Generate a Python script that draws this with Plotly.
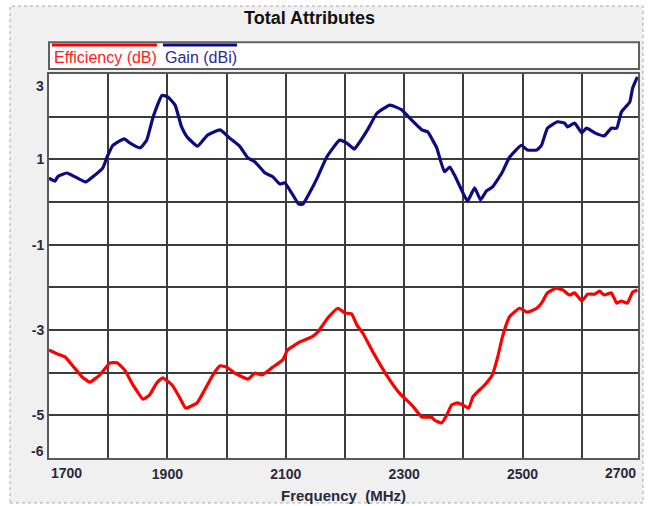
import plotly.graph_objects as go

# ---- data ----
freq_gain = [1700, 1710, 1715, 1730, 1744, 1762, 1774, 1791, 1798, 1808, 1827, 1837, 1854, 1865,
             1876, 1891, 1901, 1913, 1924, 1933, 1951, 1968, 1989, 2005, 2022, 2036, 2048, 2065,
             2078, 2090, 2098, 2110, 2122, 2129, 2140, 2154, 2169, 2191, 2203, 2216, 2225, 2238,
             2254, 2276, 2296, 2309, 2330, 2340, 2348, 2355, 2368, 2377, 2385, 2397, 2407, 2419,
             2429, 2439, 2449, 2465, 2478, 2498, 2508, 2524, 2532, 2542, 2559, 2571, 2576, 2588,
             2600, 2608, 2622, 2638, 2650, 2659, 2667, 2681, 2686, 2694]
gain_dbi = [0.56, 0.49, 0.60, 0.68, 0.59, 0.47, 0.59, 0.80, 1.05, 1.33, 1.48, 1.38, 1.27, 1.45,
            2.00, 2.50, 2.46, 2.27, 1.76, 1.53, 1.31, 1.57, 1.69, 1.50, 1.31, 1.03, 0.94, 0.68,
            0.59, 0.42, 0.45, 0.21, -0.05, -0.05, 0.21, 0.59, 1.05, 1.45, 1.38, 1.24, 1.41, 1.69,
            2.08, 2.27, 2.16, 1.97, 1.69, 1.64, 1.45, 1.27, 0.71, 0.82, 0.63, 0.28, 0.02, 0.33,
            0.05, 0.26, 0.35, 0.68, 1.05, 1.33, 1.22, 1.22, 1.33, 1.73, 1.88, 1.85, 1.76, 1.85,
            1.62, 1.73, 1.62, 1.55, 1.73, 1.73, 2.11, 2.34, 2.67, 2.93]

freq_eff = [1700, 1714, 1727, 1739, 1756, 1769, 1786, 1803, 1815, 1828, 1842, 1859, 1870, 1882,
            1892, 1908, 1921, 1931, 1950, 1960, 1977, 1989, 2000, 2014, 2036, 2048, 2060, 2078,
            2095, 2103, 2124, 2144, 2154, 2171, 2188, 2200, 2211, 2220, 2230, 2247, 2270, 2292,
            2313, 2330, 2346, 2351, 2363, 2372, 2380, 2390, 2399, 2409, 2416, 2424, 2436, 2449,
            2458, 2466, 2478, 2495, 2508, 2524, 2532, 2542, 2557, 2568, 2579, 2588, 2600, 2610,
            2622, 2630, 2638, 2650, 2659, 2667, 2677, 2686, 2694]
eff_db = [-3.47, -3.56, -3.63, -3.82, -4.10, -4.22, -4.05, -3.77, -3.77, -3.94, -4.29, -4.62, -4.52, -4.24,
          -4.12, -4.29, -4.59, -4.83, -4.71, -4.48, -4.05, -3.84, -3.87, -4.01, -4.15, -4.01, -4.05, -3.87,
          -3.70, -3.47, -3.28, -3.16, -3.05, -2.72, -2.49, -2.60, -2.62, -2.88, -3.07, -3.51, -4.05, -4.48,
          -4.76, -5.04, -5.04, -5.11, -5.18, -4.99, -4.76, -4.71, -4.76, -4.83, -4.57, -4.45, -4.29, -4.05,
          -3.63, -3.16, -2.69, -2.49, -2.58, -2.49, -2.37, -2.13, -2.02, -2.06, -2.18, -2.13, -2.32, -2.16,
          -2.16, -2.09, -2.18, -2.13, -2.37, -2.32, -2.37, -2.11, -2.06]

x_grid_vals = [1700, 1800, 1900, 2000, 2100, 2200, 2300, 2400, 2500, 2600]
x_tick_text = ["", "", "1900", "", "2100", "", "2300", "", "2500", ""]
y_grid_vals = [3, 2, 1, 0, -1, -2, -3, -4, -5, -6]
y_tick_text = ["", "", "1", "", "-1", "", "-3", "", "-5", ""]

title_text = "Total Attributes"
x_title = "Frequency\u00a0\u00a0(MHz)"
series_names = ["Efficiency (dB)", "Gain (dBi)"]
x_range = [1700, 2695]
y_range = [-6, 3]

FONT = "Liberation Sans, Arial, sans-serif"
RED = "#ff0000"
BLUE = "#0c0c80"
TICKC = "#2a2a3a"

fig = go.Figure()
fig.add_trace(go.Scatter(x=freq_eff, y=eff_db, mode="lines", name=series_names[0],
                         line=dict(color=RED, width=3.2, shape="spline", smoothing=0.4)))
fig.add_trace(go.Scatter(x=freq_gain, y=gain_dbi, mode="lines", name=series_names[1],
                         line=dict(color=BLUE, width=3.2, shape="spline", smoothing=0.4)))

tickfont = dict(family=FONT, size=14, color=TICKC, weight="bold")

fig.update_layout(
    width=650, height=506,
    margin=dict(l=49, r=12, t=74, b=48),
    paper_bgcolor="white", plot_bgcolor="white",
    showlegend=False,
    font=dict(family=FONT),
    xaxis=dict(range=x_range, tickvals=x_grid_vals, ticktext=x_tick_text,
               showgrid=True, gridcolor="#3c3c3c", gridwidth=1.5,
               showline=True, linecolor="#5a5a5a", linewidth=2, mirror=True,
               ticks="", tickfont=tickfont, zeroline=False, ticklabelstandoff=2,
               automargin=False,
               title=dict(text=x_title, font=dict(family=FONT, size=15, color=TICKC, weight="bold"),
                          standoff=10)),
    yaxis=dict(range=y_range, tickvals=y_grid_vals, ticktext=y_tick_text,
               showgrid=True, gridcolor="#3c3c3c", gridwidth=1.5,
               showline=True, linecolor="#5a5a5a", linewidth=2, mirror=True,
               ticks="", tickfont=tickfont, zeroline=False, automargin=False),
)

shapes = [
    # grey panel
    dict(type="rect", xref="paper", yref="paper", x0=-0.0662, x1=1.0085, y0=-0.117, y1=1.177,
         fillcolor="#f0f0f0", line=dict(color="#a8a8a8", width=1, dash="dot"), layer="below"),
    # white plot area
    dict(type="rect", xref="paper", yref="paper", x0=0, x1=1, y0=0, y1=1,
         fillcolor="white", line=dict(width=0), layer="below"),
    # legend box
    dict(type="rect", xref="paper", yref="paper", x0=0, x1=1.0017, y0=1.013, y1=1.083,
         fillcolor="white", line=dict(color="#606060", width=2)),
    # legend lines
    dict(type="line", xref="paper", yref="paper", x0=0.0051, x1=0.1834, y0=1.0755, y1=1.0755,
         line=dict(color=RED, width=3)),
    dict(type="line", xref="paper", yref="paper", x0=0.1935, x1=0.3192, y0=1.0755, y1=1.0755,
         line=dict(color=BLUE, width=3)),
]
fig.update_layout(shapes=shapes)

annotations = [
    dict(text=title_text, xref="paper", yref="paper", x=0.443, y=1.146, showarrow=False,
         xanchor="center", yanchor="middle",
         font=dict(family=FONT, size=18, color="#111111", weight="bold")),
    dict(text=series_names[0], xref="paper", yref="paper", x=0.0051, y=1.0417, showarrow=False,
         xanchor="left", yanchor="middle", font=dict(family=FONT, size=16, color="#ff1a1a")),
    dict(text=series_names[1], xref="paper", yref="paper", x=0.1935, y=1.0417, showarrow=False,
         xanchor="left", yanchor="middle", font=dict(family=FONT, size=16, color="#2a2a9a")),
    # end tick labels, pushed inward as in the reference
    dict(text="3", xref="paper", yref="y", x=0, y=y_range[1], xshift=-3, yshift=-12, showarrow=False,
         xanchor="right", yanchor="middle", font=tickfont),
    dict(text="-6", xref="paper", yref="y", x=0, y=y_range[0], xshift=-3, yshift=7, showarrow=False,
         xanchor="right", yanchor="middle", font=tickfont),
    dict(text="1700", xref="x", yref="paper", x=x_range[0], y=0, yshift=-15, showarrow=False,
         xanchor="left", yanchor="middle", font=tickfont),
    dict(text="2700", xref="paper", yref="paper", x=1, y=0, yshift=-15, showarrow=False,
         xanchor="right", yanchor="middle", font=tickfont),
]
fig.update_layout(annotations=annotations)

fig.write_html("out.html", config={"displayModeBar": False},
               post_script="document.body.style.margin='0px';")
